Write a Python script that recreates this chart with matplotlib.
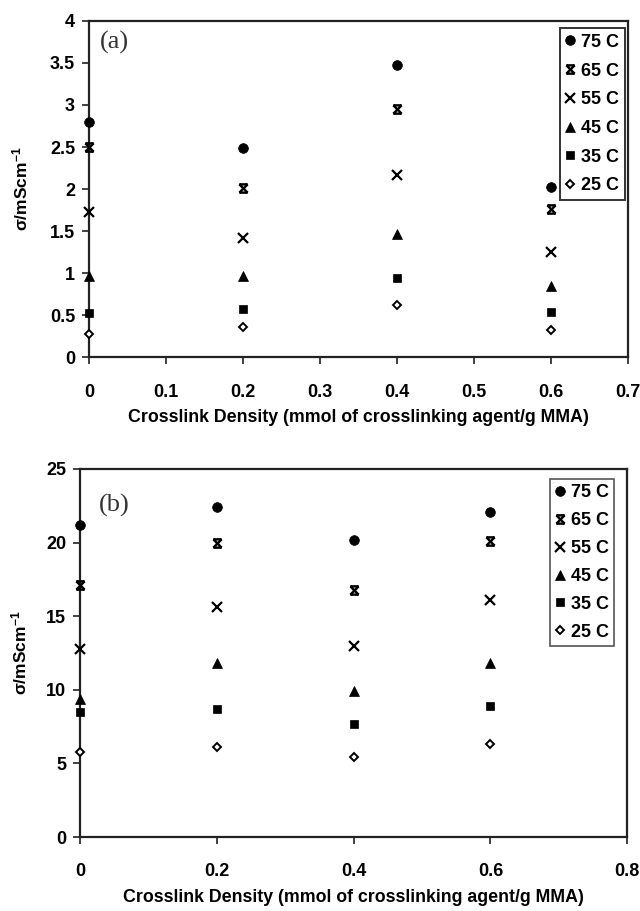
import matplotlib
matplotlib.use("Agg")
import matplotlib.pyplot as plt
from matplotlib.path import Path
import numpy as np

plt.rcParams['font.family'] = ['Liberation Sans', 'DejaVu Sans']
plt.rcParams['mathtext.fontset'] = 'custom'
plt.rcParams['mathtext.bf'] = 'Liberation Sans:bold'
plt.rcParams['mathtext.rm'] = 'Liberation Sans'

# ---- data ----
labels = ["75 C", "65 C", "55 C", "45 C", "35 C", "25 C"]
x_a = [0.0, 0.2, 0.4, 0.6]
a_75 = [2.80, 2.49, 3.48, 2.02]
a_65 = [2.50, 2.01, 2.95, 1.76]
a_55 = [1.73, 1.42, 2.17, 1.25]
a_45 = [0.96, 0.97, 1.46, 0.85]
a_35 = [0.52, 0.57, 0.94, 0.54]
a_25 = [0.27, 0.36, 0.62, 0.32]

x_b = [0.0, 0.2, 0.4, 0.6]
b_75 = [21.2, 22.4, 20.2, 22.1]
b_65 = [17.1, 20.0, 16.8, 20.1]
b_55 = [12.8, 15.6, 13.0, 16.1]
b_45 = [9.4, 11.8, 9.9, 11.8]
b_35 = [8.5, 8.7, 7.7, 8.9]
b_25 = [5.8, 6.1, 5.45, 6.35]

a_xticks = [0, 0.1, 0.2, 0.3, 0.4, 0.5, 0.6, 0.7]
a_xticklabels = ["0", "0.1", "0.2", "0.3", "0.4", "0.5", "0.6", "0.7"]
a_yticks = [0, 0.5, 1, 1.5, 2, 2.5, 3, 3.5, 4]
a_yticklabels = ["0", "0.5", "1", "1.5", "2", "2.5", "3", "3.5", "4"]
b_xticks = [0, 0.2, 0.4, 0.6, 0.8]
b_xticklabels = ["0", "0.2", "0.4", "0.6", "0.8"]
b_yticks = [0, 5, 10, 15, 20, 25]
b_yticklabels = ["0", "5", "10", "15", "20", "25"]

xlabel = "Crosslink Density (mmol of crosslinking agent/g MMA)"
ylabel = r"σ/mScm$\mathbf{^{-1}}$"

# star-like marker (x with top & bottom bars)
star_verts = [(-1, -1), (1, 1), (-1, 1), (1, -1), (-1, 1), (1, 1), (-1, -1), (1, -1)]
star_codes = [Path.MOVETO, Path.LINETO, Path.MOVETO, Path.LINETO,
              Path.MOVETO, Path.LINETO, Path.MOVETO, Path.LINETO]
star_marker = Path(star_verts, star_codes)

styles = [
    dict(marker='o', ms=7, mfc='black', mec='black', mew=0.5),
    dict(marker=star_marker, ms=6, mfc='none', mec='black', mew=1.7),
    dict(marker='x', ms=6.5, mfc='none', mec='black', mew=1.6),
    dict(marker='^', ms=7, mfc='black', mec='black', mew=0.5),
    dict(marker='s', ms=6.2, mfc='black', mec='black', mew=0.5),
    dict(marker='D', ms=4.5, mfc='white', mec='black', mew=1.4),
]

fig = plt.figure(figsize=(6.4, 9.11), dpi=100)

def setup(ax, xt, xtl, yt, ytl, xlim, ylim):
    ax.set_xlim(*xlim)
    ax.set_ylim(*ylim)
    ax.set_xticks(xt)
    ax.set_xticklabels(xtl, fontsize=13, fontweight='bold')
    ax.set_yticks(yt)
    ax.set_yticklabels(ytl, fontsize=13, fontweight='bold')
    ax.tick_params(direction='out', length=5, width=1.3, color='#333333', pad=5)
    ax.tick_params(axis='x', pad=14)
    for s in ax.spines.values():
        s.set_linewidth(1.6)
        s.set_color('#222222')
    ax.set_xlabel(xlabel, fontsize=12.8, fontweight='bold', labelpad=6)

# panel a
ax1 = fig.add_axes([0.139, 0.608, 0.842, 0.369])
series_a = [a_75, a_65, a_55, a_45, a_35, a_25]
for lab, ys, st in zip(labels, series_a, styles):
    ax1.plot(x_a, ys, linestyle='none', label=lab, clip_on=False, zorder=5, **st)
setup(ax1, a_xticks, a_xticklabels, a_yticks, a_yticklabels, (0, 0.7), (0, 4))
ax1.set_ylabel(ylabel, fontsize=12.5, fontweight='bold', labelpad=14)
ax1.text(0.02, 0.935, "(a)", transform=ax1.transAxes, fontsize=19,
         family=['Liberation Serif', 'DejaVu Serif'], va='center', ha='left', color='#333333')
leg1 = ax1.legend(loc='upper right', bbox_to_anchor=(0.994, 0.978), borderaxespad=0,
                  fancybox=False, edgecolor='#333333', framealpha=1,
                  prop={'weight': 'bold', 'size': 13}, handlelength=0.5,
                  handletextpad=0.35, labelspacing=0.65, borderpad=0.3)
leg1.get_frame().set_linewidth(1.4)

# panel b
ax2 = fig.add_axes([0.125, 0.0812, 0.855, 0.404])
series_b = [b_75, b_65, b_55, b_45, b_35, b_25]
for lab, ys, st in zip(labels, series_b, styles):
    ax2.plot(x_b, ys, linestyle='none', label=lab, clip_on=False, zorder=5, **st)
setup(ax2, b_xticks, b_xticklabels, b_yticks, b_yticklabels, (0, 0.8), (0, 25))
ax2.set_ylabel(ylabel, fontsize=12.5, fontweight='bold', labelpad=12)
ax2.text(0.035, 0.90, "(b)", transform=ax2.transAxes, fontsize=19,
         family=['Liberation Serif', 'DejaVu Serif'], va='center', ha='left', color='#333333')
leg2 = ax2.legend(loc='upper right', bbox_to_anchor=(0.976, 0.973), borderaxespad=0,
                  fancybox=False, edgecolor='#555555', framealpha=1,
                  prop={'weight': 'bold', 'size': 13}, handlelength=0.5,
                  handletextpad=0.35, labelspacing=0.6, borderpad=0.3)
leg2.get_frame().set_linewidth(1.2)

fig.savefig("out.png", dpi=100)
